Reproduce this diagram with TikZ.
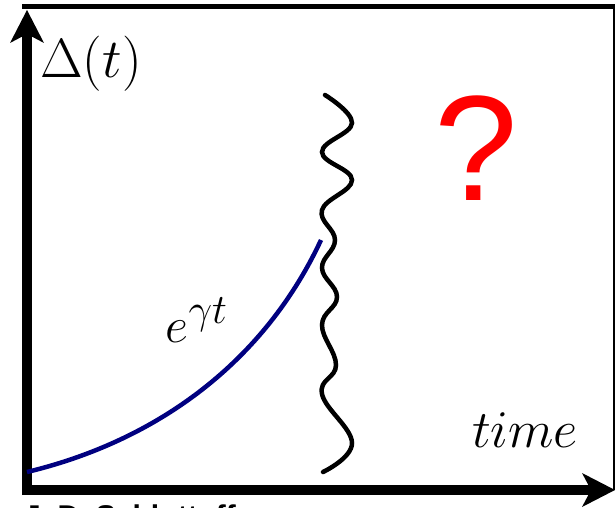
\documentclass[tikz,border=0pt]{standalone}
\usepackage{fontspec}
\usetikzlibrary{arrows.meta}
\newfontfamily\signfont{Liberation Sans}
\definecolor{deepnavy}{RGB}{0,0,128}

\begin{document}
\begin{tikzpicture}[
  x=1pt, y=-1pt,
  axis/.style={line width=10pt, -{Stealth[length=33pt, width=34pt, inset=9pt, line width=0pt]}},
  frame/.style={line width=5pt},
  growth/.style={line width=4.5pt, draw=deepnavy},
  wiggle/.style={line width=4.5pt, line cap=round},
  lbl/.style={inner sep=0pt, anchor=base, font=\Huge, transform shape}
]
\useasboundingbox (0,0) rectangle (615,508);

% frame and axes
\draw[frame] (22,7) -- (615.5,7) -- (615.5,490);
\coordinate (origin) at (27,490);
\coordinate (ytop)   at (27,10);
\coordinate (xend)   at (615,490);
\draw[axis] (27,495) -- (ytop);
\draw[axis] (22,490) -- (xend);

% growth and break
\draw[growth] (27,472) .. controls (160,440) and (265,360) .. (321,240);
\draw[wiggle] plot[smooth, tension=0.7] coordinates {(325,95) (352,123) (322,152) (352,180) (322,210) (335,240) (322,268) (337,297) (322,325) (336,365) (322,394) (352,443) (323,472)};

% labels
\node[lbl, scale=2.22] (delta) at (91,78)   {$\Delta(t)$};
\node[lbl, scale=2.13] (time)  at (525,447) {$time$};
\node[lbl, scale=2.02] (rate) at (197,342) {$e^{\gamma t}$};
\node[inner sep=0pt, anchor=base, text=red, font=\signfont\fontsize{150}{180}\selectfont] (unknown) at (476,200) {?};
\node[inner sep=0pt, anchor=base west, font=\signfont\bfseries\fontsize{30}{36}\selectfont] (credit) at (24,526) {J. D. Schlottoff};
\end{tikzpicture}
\end{document}
